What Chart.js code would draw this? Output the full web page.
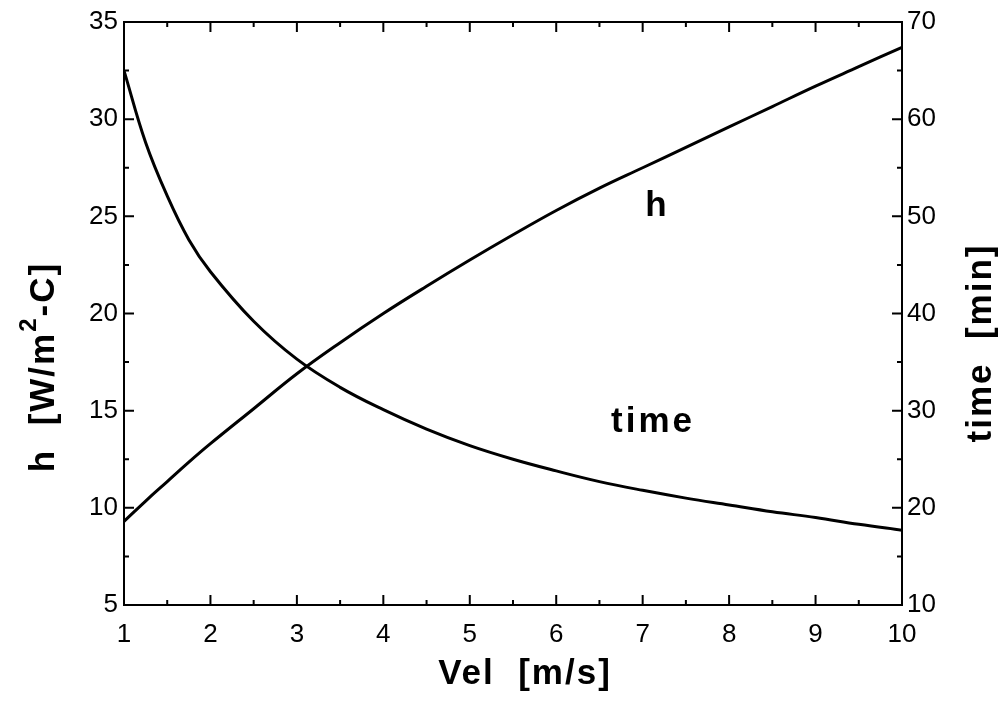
<!DOCTYPE html>
<html>
<head>
<meta charset="utf-8">
<script src="https://cdn.jsdelivr.net/npm/chart.js@4.4.1/dist/chart.umd.min.js"></script>
<style>
  html, body { margin: 0; padding: 0; background: #fff; }
  #wrap { width: 1003px; height: 702px; position: relative; }
</style>
</head>
<body>
<div id="wrap"><canvas id="chart"></canvas></div>
<script>
// values
const vel = [1, 1.25, 1.5, 1.75, 2, 2.5, 3, 3.5, 4, 4.5, 5, 5.5, 6, 6.5, 7, 7.5, 8, 8.5, 9, 9.5, 10];
const hValues = [9.3, 10.35, 11.35, 12.35, 13.3, 15.1, 16.9, 18.5, 20.0, 21.4, 22.75, 24.05, 25.3, 26.45, 27.5, 28.55, 29.6, 30.65, 31.7, 32.7, 33.7];
const timeValues = [65.0, 57.6, 52.1, 47.6, 44.3, 39.2, 35.3, 32.4, 30.1, 28.1, 26.4, 25.0, 23.8, 22.7, 21.8, 21.0, 20.3, 19.6, 19.0, 18.3, 17.7];

const xTitle = 'Vel  [m/s]';
const yTitle = ['h  [W/m', '2', '-C]'];
const y2Title = 'time  [min]';
const curveLabels = [
    { text: 'h', x: 7.17, y: 25.0 },
    { text: 'time', x: 7.12, y: 13.9 }
];

const FONT = "'Liberation Sans', Arial, sans-serif";

const pts = vals => vel.map((v, i) => ({ x: v, y: vals[i] }));

// frame, inward ticks, titles and curve labels
const decor = {
    id: 'decor',
    afterDatasetsDraw(chart) {
        const { ctx, chartArea: a, scales } = chart;
        ctx.save();
        ctx.strokeStyle = '#000';
        ctx.lineWidth = 2;
        ctx.strokeRect(a.left, a.top, a.right - a.left, a.bottom - a.top);

        const marks = scale => {
            const out = [];
            const t = scale.ticks.map(k => k.value);
            t.forEach((v, i) => {
                out.push([v, 10]);
                if (i < t.length - 1) out.push([(v + t[i + 1]) / 2, 5]);
            });
            return out;
        };
        ctx.beginPath();
        marks(scales.x).forEach(([v, len]) => {
            const px = scales.x.getPixelForValue(v);
            ctx.moveTo(px, a.bottom); ctx.lineTo(px, a.bottom - len);
            ctx.moveTo(px, a.top); ctx.lineTo(px, a.top + len);
        });
        marks(scales.y).forEach(([v, len]) => {
            const py = scales.y.getPixelForValue(v);
            ctx.moveTo(a.left, py); ctx.lineTo(a.left + len, py);
        });
        marks(scales.y2).forEach(([v, len]) => {
            const py = scales.y2.getPixelForValue(v);
            ctx.moveTo(a.right, py); ctx.lineTo(a.right - len, py);
        });
        ctx.stroke();

        ctx.fillStyle = '#000';
        ctx.textAlign = 'center';
        ctx.textBaseline = 'alphabetic';
        ctx.letterSpacing = '3px';
        ctx.font = 'bold 35px ' + FONT;
        curveLabels.forEach(l => {
            ctx.fillText(l.text, scales.x.getPixelForValue(l.x), scales.y.getPixelForValue(l.y));
        });

        ctx.letterSpacing = '2px';
        // x title
        ctx.textBaseline = 'middle';
        ctx.fillText(xTitle, 525, 674);

        // right title, reads bottom to top
        ctx.save();
        ctx.translate(981, 343);
        ctx.rotate(-Math.PI / 2);
        ctx.fillText(y2Title, 0, 0);
        ctx.restore();

        // left title with superscript
        ctx.save();
        ctx.translate(44, 367);
        ctx.rotate(-Math.PI / 2);
        ctx.textAlign = 'left';
        const big = 'bold 35px ' + FONT, small = 'bold 24px ' + FONT;
        ctx.font = big;
        const w1 = ctx.measureText(yTitle[0]).width;
        const w3 = ctx.measureText(yTitle[2]).width;
        ctx.font = small;
        const w2 = ctx.measureText(yTitle[1]).width;
        let x0 = -(w1 + w2 + w3) / 2;
        ctx.font = big;
        ctx.fillText(yTitle[0], x0, 0);
        ctx.font = small;
        ctx.fillText(yTitle[1], x0 + w1, -15);
        ctx.font = big;
        ctx.fillText(yTitle[2], x0 + w1 + w2, 0);
        ctx.restore();

        ctx.restore();
    }
};

const tickFont = { family: FONT, size: 26 };

new Chart(document.getElementById('chart'), {
    type: 'line',
    data: {
        datasets: [
            {
                label: 'h',
                data: pts(hValues),
                yAxisID: 'y',
                borderColor: '#000',
                borderWidth: 3,
                pointRadius: 0,
                tension: 0.4,
                fill: false
            },
            {
                label: 'time',
                data: pts(timeValues),
                yAxisID: 'y2',
                borderColor: '#000',
                borderWidth: 3,
                pointRadius: 0,
                tension: 0.4,
                fill: false
            }
        ]
    },
    options: {
        responsive: true,
        maintainAspectRatio: false,
        animation: false,
        layout: { padding: { top: 22, left: 0, right: 0, bottom: 0 } },
        plugins: {
            legend: { display: false },
            tooltip: { enabled: false }
        },
        scales: {
            x: {
                type: 'linear',
                min: 1,
                max: 10,
                ticks: { stepSize: 1, font: tickFont, color: '#000', padding: 14, maxRotation: 0 },
                grid: { display: false, drawTicks: false },
                border: { display: false },
                afterFit: s => { s.height = 97; }
            },
            y: {
                position: 'left',
                min: 5,
                max: 35,
                ticks: { stepSize: 5, font: tickFont, color: '#000', padding: 6 },
                grid: { display: false, drawTicks: false },
                border: { display: false },
                afterFit: s => { s.width = 124; }
            },
            y2: {
                position: 'right',
                min: 10,
                max: 70,
                ticks: { stepSize: 10, font: tickFont, color: '#000', padding: 5 },
                grid: { display: false, drawTicks: false },
                border: { display: false },
                afterFit: s => { s.width = 101; }
            }
        }
    },
    plugins: [decor]
});
</script>
</body>
</html>
